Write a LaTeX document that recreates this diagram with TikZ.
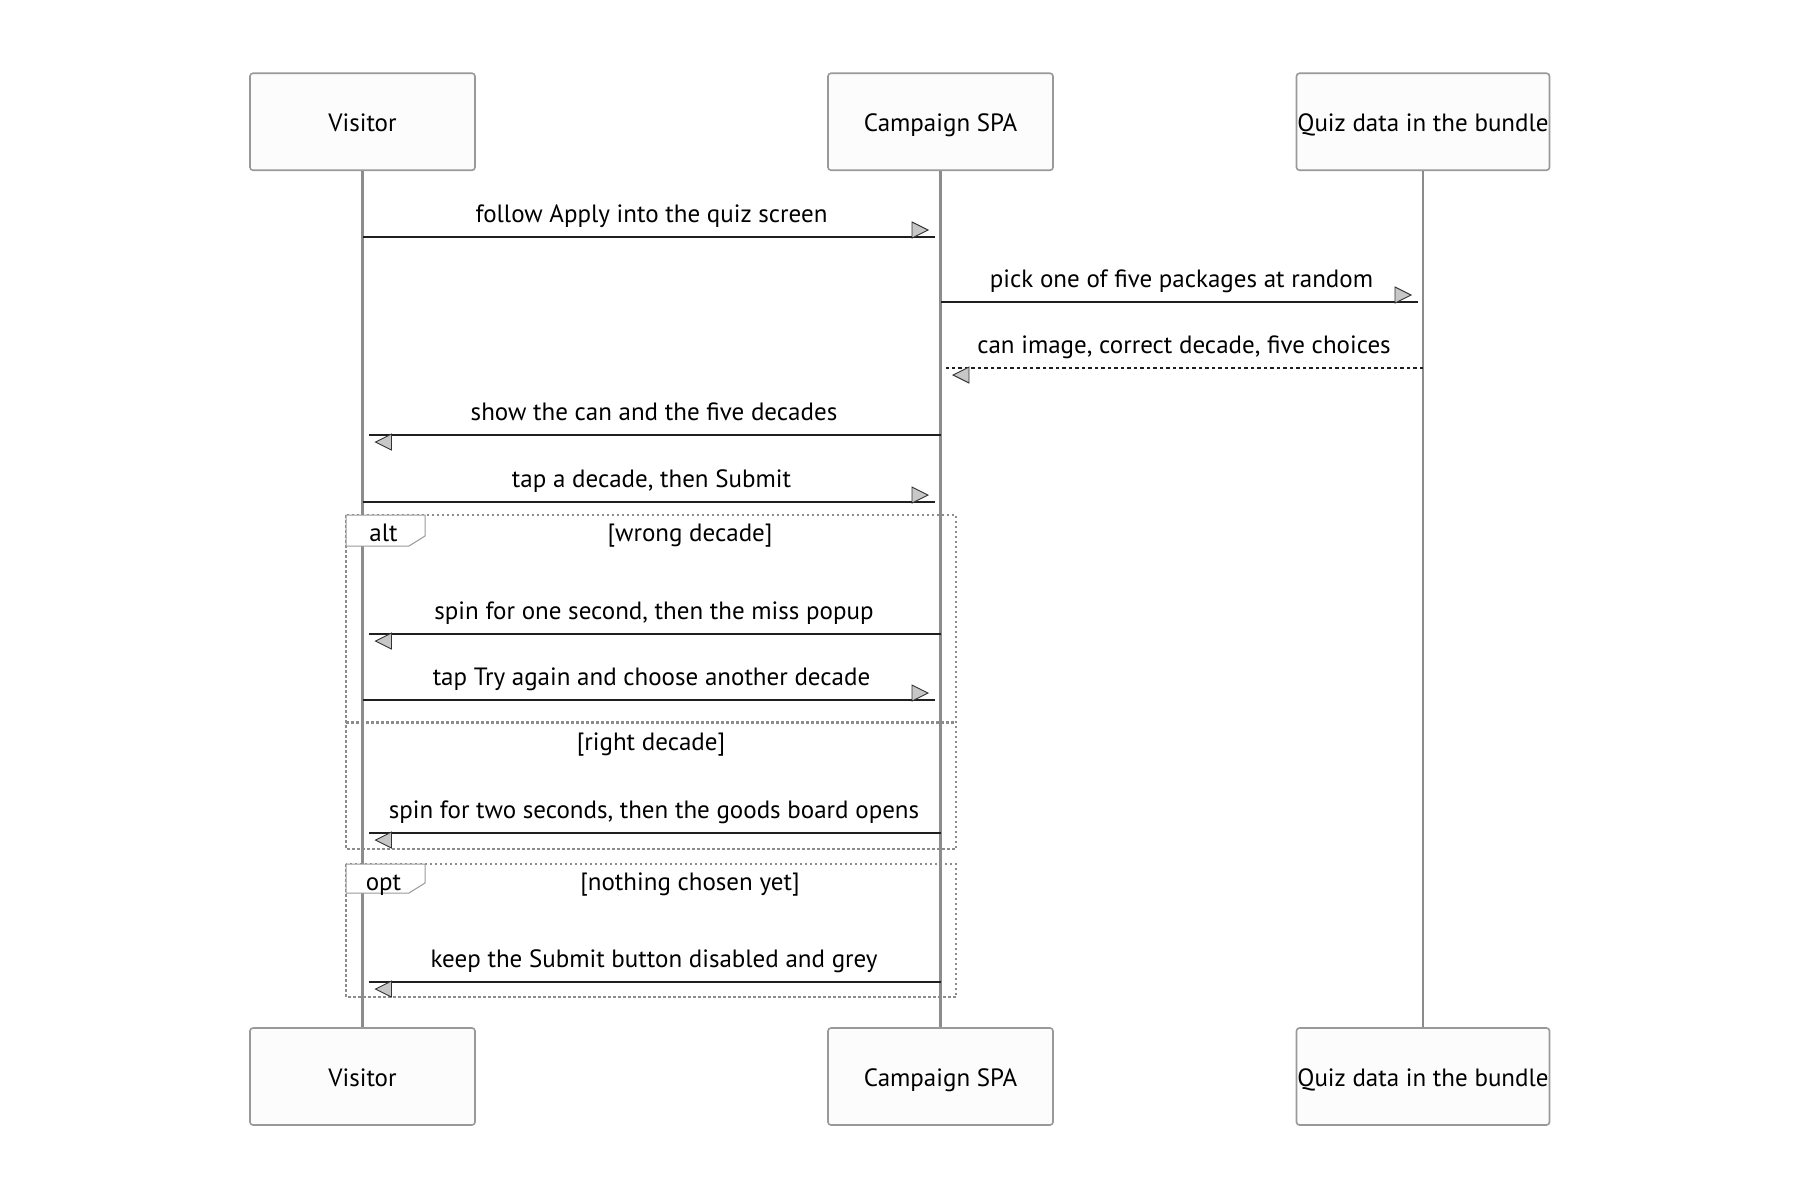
\documentclass[tikz,border=0pt]{standalone}
\usepackage{fontspec}
\setmainfont{PT Sans}
\begin{document}
\begin{tikzpicture}[x=1pt,y=-1pt,
  every node/.style={font=\fontsize{25}{30}\selectfont, text=black, inner sep=0pt},
  lbl/.style={anchor=base},
  actorbox/.style={draw=black!40, line width=1.6pt, fill=black!1, rounded corners=3pt, minimum height=97pt},
  lifeline/.style={draw=black!45, line width=2.7pt},
  msg/.style={draw=black!88, line width=2.4pt},
  dmsg/.style={draw=black!88, line width=2.2pt, dash pattern=on 3.5pt off 3pt},
  tipst/.style={draw=black!80, fill=black!22, line width=0.9pt, line join=miter},
  framest/.style={draw=black!45, line width=2.5pt, dash pattern=on 2.5pt off 2.5pt},
  tabst/.style={draw=black!40, fill=white, line width=1pt},
  rtip/.pic={\path[tipst] (-23,-15) -- (-7,-7) -- (-23,1) -- cycle;},
  ltip/.pic={\path[tipst] (23,15) -- (7,7) -- (23,-1) -- cycle;}
]
\useasboundingbox (0,0) rectangle (1800,1200);
\fill[white] (0,0) rectangle (1800,1200);

% actors
\node[actorbox, minimum width=225pt] (v1) at (362.5,121.75) {};
\node[actorbox, minimum width=225pt] (s1) at (940.5,121.75) {};
\node[actorbox, minimum width=253pt] (q1) at (1423,121.75) {};
\node[actorbox, minimum width=225pt] (v2) at (362.5,1076.5) {};
\node[actorbox, minimum width=225pt] (s2) at (940.5,1076.5) {};
\node[actorbox, minimum width=253pt] (q2) at (1423,1076.5) {};
\node[lbl] (v1t) at ([yshift=-10pt]v1.center) {Visitor};
\node[lbl] (s1t) at ([yshift=-10pt]s1.center) {Campaign SPA};
\node[lbl] (q1t) at ([yshift=-10pt]q1.center) {Quiz data in the bundle};
\node[lbl] (v2t) at ([yshift=-10pt]v2.center) {Visitor};
\node[lbl] (s2t) at ([yshift=-10pt]s2.center) {Campaign SPA};
\node[lbl] (q2t) at ([yshift=-10pt]q2.center) {Quiz data in the bundle};

% lifelines
\draw[lifeline] (v1.south) -- (v2.north);
\draw[lifeline] (s1.south) -- (s2.north);
\draw[lifeline] (q1.south) -- (q2.north);

% message endpoints
\coordinate (m1a) at (362.5,237);  \coordinate (m1b) at (935,237);
\coordinate (m2a) at (941,302);    \coordinate (m2b) at (1418,302);
\coordinate (m3a) at (1423,368);   \coordinate (m3b) at (946,368);
\coordinate (m4a) at (940.5,435);  \coordinate (m4b) at (368.5,435);
\coordinate (m5a) at (362.5,502);  \coordinate (m5b) at (935,502);
\coordinate (m6a) at (940.5,634);  \coordinate (m6b) at (368.5,634);
\coordinate (m7a) at (362.5,700);  \coordinate (m7b) at (935,700);
\coordinate (m8a) at (940.5,833);  \coordinate (m8b) at (368.5,833);
\coordinate (m9a) at (940.5,982);  \coordinate (m9b) at (368.5,982);

% frames
\draw[framest] (346,515) rectangle (956,849);
\draw[framest] (346,722.5) -- (956,722.5);
\path[tabst] (346,515) -- (425,515) -- (425,536) -- (409,546) -- (346,546) -- cycle;
\node[lbl] (alt) at (383.5,541) {alt};
\node[lbl] (c1) at (690,541) {[wrong decade]};
\node[lbl] (c2) at (651,750) {[right decade]};

\draw[framest] (346,864) rectangle (956,997);
\path[tabst] (346,864) -- (425,864) -- (425,883) -- (409,893) -- (346,893) -- cycle;
\node[lbl] (opt) at (383.5,890) {opt};
\node[lbl] (c3) at (690,890) {[nothing chosen yet]};

% messages
\draw[msg] (m1a) -- (m1b); \pic at (m1b) {rtip};
\node[lbl] (t1) at (651.5,222) {follow Apply into the quiz screen};

\draw[msg] (m2a) -- (m2b); \pic at (m2b) {rtip};
\node[lbl] (t2) at (1181.5,287) {pick one of five packages at random};

\draw[dmsg] (m3a) -- (m3b); \pic at (m3b) {ltip};
\node[lbl] (t3) at (1184,353) {can image, correct decade, five choices};

\draw[msg] (m4a) -- (m4b); \pic at (m4b) {ltip};
\node[lbl] (t4) at (654,420) {show the can and the five decades};

\draw[msg] (m5a) -- (m5b); \pic at (m5b) {rtip};
\node[lbl] (t5) at (651.5,487) {tap a decade, then Submit};

\draw[msg] (m6a) -- (m6b); \pic at (m6b) {ltip};
\node[lbl] (t6) at (654,619) {spin for one second, then the miss popup};

\draw[msg] (m7a) -- (m7b); \pic at (m7b) {rtip};
\node[lbl] (t7) at (651.5,685) {tap Try again and choose another decade};

\draw[msg] (m8a) -- (m8b); \pic at (m8b) {ltip};
\node[lbl] (t8) at (654,818) {spin for two seconds, then the goods board opens};

\draw[msg] (m9a) -- (m9b); \pic at (m9b) {ltip};
\node[lbl] (t9) at (654,967) {keep the Submit button disabled and grey};
\end{tikzpicture}
\end{document}
